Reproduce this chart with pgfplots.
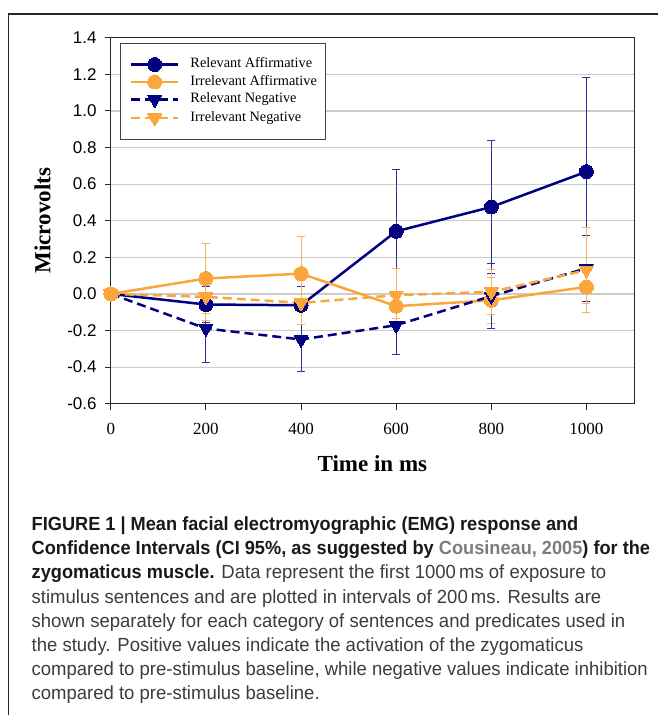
\documentclass[border=0pt]{standalone}
\usepackage{pgfplots}
\usepackage{pgfplotstable}
\pgfplotsset{compat=1.18}
\usepackage{fontspec}
\setmainfont{Liberation Serif}
\newfontfamily\arial{Liberation Sans}
\newfontfamily\capfont[FakeStretch=0.974,BoldFeatures={FakeStretch=0.957}]{Liberation Sans}
\definecolor{navyc}{RGB}{0,0,128}
\definecolor{orangec}{RGB}{250,166,58}
\definecolor{navyerr}{RGB}{45,45,165}
\definecolor{orangeerr}{RGB}{250,178,95}
\definecolor{captxt}{RGB}{60,60,60}
\definecolor{capbold}{RGB}{25,25,25}
\definecolor{capgray}{RGB}{125,125,125}

\pgfplotstableread{
x y e
0 0 0
200 -0.058 0.100
400 -0.062 0.105
600 0.342 0.336
800 0.475 0.365
1000 0.668 0.512
}\ra
\pgfplotstableread{
x y e
0 0 0
200 0.084 0.193
400 0.111 0.200
600 -0.067 0.070
800 -0.035 0.127
1000 0.038 0.091
}\ia
\pgfplotstableread{
x y e
0 0 0
200 -0.189 0.188
400 -0.249 0.173
600 -0.171 0.160
800 -0.012 0.178
1000 0.140 0.180
}\rn
\pgfplotstableread{
x y e
0 0 0
200 -0.016 0.130
400 -0.049 0.120
600 -0.007 0.144
800 0.011 0.124
1000 0.130 0.233
}\irn

\begin{document}
\begin{tikzpicture}
\useasboundingbox (0,0) rectangle (659pt,-715pt);
\draw[line width=1.6pt, black!85] (8.3pt,-715pt) -- (8.3pt,-14pt) -- (658pt,-14pt);
\begin{axis}[
  at={(110.8pt,-403.7pt)}, anchor=south west,
  scale only axis, width=523.2pt, height=366pt,
  xmin=0, xmax=1100, ymin=-0.6, ymax=1.4,
  xtick={0,200,400,600,800,1000},
  xticklabels={0,200,400,600,800,1000},
  ytick={-0.6,-0.4,-0.2,0,0.2,0.4,0.6,0.8,1.0,1.2,1.4},
  yticklabels={-0.6,-0.4,-0.2,0.0,0.2,0.4,0.6,0.8,1.0,1.2,1.4},
  tick align=outside, major tick length=6pt,
  xtick pos=bottom, ytick pos=left,
  ymajorgrids, major grid style={line width=1.2pt, black!20},
  axis line style={line width=1pt, black!85},
  tick style={line width=1pt, black!85},
  yticklabel style={font=\arial\fontsize{17}{17}\selectfont, inner sep=0pt, anchor=east, xshift=-8pt},
  xticklabel style={font=\fontsize{17}{17}\selectfont, inner sep=0pt, anchor=north, yshift=-13pt},
  xlabel={Time in ms},
  ylabel={Microvolts},
  xlabel style={font=\bfseries\fontsize{23}{23}\selectfont, at={(axis description cs:0.5,-0.1858)}, anchor=base},
  ylabel style={font=\bfseries\fontsize{23}{23}\selectfont, at={(axis description cs:-0.1307,0.5)}, anchor=center},
  legend style={at={(axis description cs:0.0185,0.9842)}, anchor=north west,
    draw=black!75, line width=1pt, fill=white, inner xsep=9pt, inner ysep=13.5pt,
    row sep=3.5pt, font=\fontsize{14.3}{16}\selectfont,
    nodes={inner sep=0pt, text height=10.5pt, text depth=3.5pt, anchor=west},
    /tikz/every odd column/.append style={column sep=11pt}},
  legend cell align=left,
  legend image code/.code={\draw[mark repeat=2,mark phase=2,#1,line width=2.5pt] plot coordinates {(0pt,0pt) (23.5pt,0pt) (47pt,0pt)};},
]
\addplot[navyc, line width=2.5pt, mark=*, mark size=7pt, mark options={solid, fill=navyc, draw=navyc, line width=0pt},
  error bars/.cd, y dir=both, y explicit,
  error bar style={line width=1pt, navyerr, solid},
  error mark options={rotate=90, mark size=4pt, line width=1pt, navyerr, solid}]
  table[x=x, y=y, y error=e] {\ra};
\addlegendentry{Relevant Affirmative}
\addplot[orangec, line width=2.5pt, mark=*, mark size=7pt, mark options={solid, fill=orangec, draw=orangec, line width=0pt},
  error bars/.cd, y dir=both, y explicit,
  error bar style={line width=1pt, orangeerr, solid},
  error mark options={rotate=90, mark size=4pt, line width=1pt, orangeerr, solid}]
  table[x=x, y=y, y error=e] {\ia};
\addlegendentry{Irrelevant Affirmative}
\addplot[navyc, line width=2.5pt, dash pattern=on 9pt off 5pt, mark=triangle*, mark size=8pt, mark options={solid, rotate=180, fill=navyc, draw=navyc, line width=0pt},
  error bars/.cd, y dir=both, y explicit,
  error bar style={line width=1pt, navyerr, solid},
  error mark options={rotate=90, mark size=4pt, line width=1pt, navyerr, solid}]
  table[x=x, y=y, y error=e] {\rn};
\addlegendentry{Relevant Negative}
\addplot[orangec, line width=2.5pt, dash pattern=on 9pt off 5pt, mark=triangle*, mark size=8pt, mark options={solid, rotate=180, fill=orangec, draw=orangec, line width=0pt},
  error bars/.cd, y dir=both, y explicit,
  error bar style={line width=1pt, orangeerr, solid},
  error mark options={rotate=90, mark size=4pt, line width=1pt, orangeerr, solid}]
  table[x=x, y=y, y error=e] {\irn};
\addlegendentry{Irrelevant Negative}
\end{axis}
\begin{scope}[every node/.style={anchor=base west, inner sep=0pt, font=\capfont\fontsize{19}{24}\selectfont, text=captxt}]
\node at (31.5pt,-530.5pt) {\textcolor{capbold}{\bfseries FIGURE 1 | Mean facial electromyographic (EMG) response and}};
\node at (31.5pt,-554.7pt) {\textcolor{capbold}{\bfseries Confidence Intervals (CI 95\%, as suggested by \textcolor{capgray}{Cousineau, 2005}) for the}};
\node at (31.5pt,-578.9pt) {\textcolor{capbold}{\bfseries zygomaticus muscle.} Data represent the first 1000\,ms of exposure to};
\node at (31.5pt,-603.1pt) {stimulus sentences and are plotted in intervals of 200\,ms. Results are};
\node at (31.5pt,-627.3pt) {shown separately for each category of sentences and predicates used in};
\node at (31.5pt,-651.5pt) {the study. Positive values indicate the activation of the zygomaticus};
\node at (31.5pt,-675.7pt) {compared to pre-stimulus baseline, while negative values indicate inhibition};
\node at (31.5pt,-699.9pt) {compared to pre-stimulus baseline.};
\end{scope}
\end{tikzpicture}
\end{document}
